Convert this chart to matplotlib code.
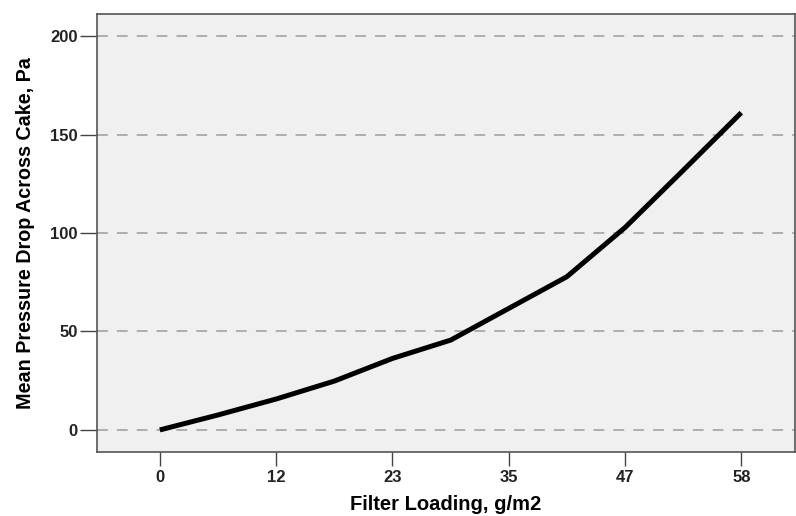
import matplotlib
matplotlib.use("Agg")
import matplotlib.pyplot as plt

# Data
loading = [0, 5.83, 11.67, 17.5, 23.33, 29.17, 35, 40.83, 46.67, 52.5, 58.33]
pressure = [0, 7.6, 15.7, 24.8, 36.3, 45.6, 61.7, 77.8, 102.8, 131.8, 161.1]
xticks = [0, 11.67, 23.33, 35, 46.67, 58.33]
xtick_labels = ["0", "12", "23", "35", "47", "58"]
yticks = [0, 50, 100, 150, 200]

plt.rcParams['font.family'] = ['Liberation Sans', 'DejaVu Sans']

fig = plt.figure(figsize=(7.96, 5.16), dpi=100)
ax = fig.add_axes([97/796, 64/516, (795-97)/796, (452-14)/516])
ax.set_facecolor('#f0f0f0')

for y in yticks:
    ax.axhline(y, color='#a8a8a8', lw=1.3, dashes=(6, 5), zorder=1)

ax.plot(loading, pressure, color='black', lw=3.6, solid_capstyle='butt', zorder=3)

step = loading[2] - loading[0]
ax.set_xlim(-0.54 * step, 5.46 * step)
ax.set_ylim(-11.2, 211.2)
ax.set_xticks(xticks)
ax.set_xticklabels(xtick_labels)
ax.set_yticks(yticks)

for lab in ax.get_xticklabels() + ax.get_yticklabels():
    lab.set_fontweight('bold')
    lab.set_fontsize(12)
    lab.set_color('#222222')
ax.tick_params(axis='x', direction='out', length=10, width=1, color='#444444', pad=3)
ax.tick_params(axis='y', direction='out', length=12, width=1, color='#444444', pad=2)

for s in ax.spines.values():
    s.set_color('#555555')
    s.set_linewidth(1.2)

ax.set_xlabel('Filter Loading, g/m2', fontsize=14.5, fontweight='bold', labelpad=7)
ax.set_ylabel('Mean Pressure Drop Across Cake, Pa', fontsize=14.2, fontweight='bold', labelpad=11)

fig.savefig('out.png', dpi=100)
